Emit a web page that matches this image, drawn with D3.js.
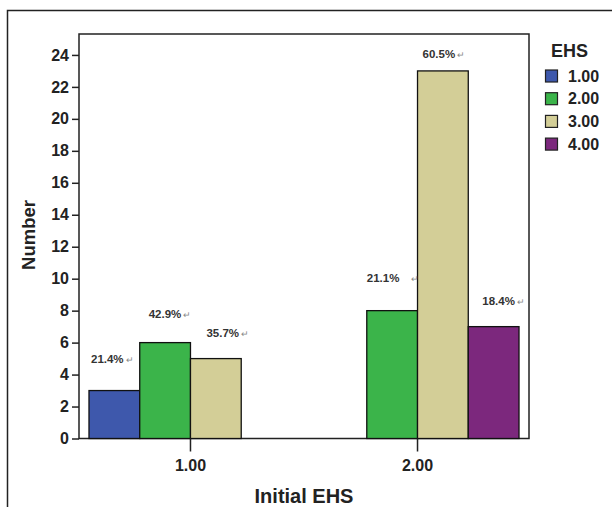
<!DOCTYPE html>
<html>
<head>
<meta charset="utf-8">
<script src="https://cdn.jsdelivr.net/npm/d3@7/dist/d3.min.js"></script>
<style>
  html, body { margin: 0; padding: 0; background: #fff; }
  svg { display: block; }
  text { font-family: "Liberation Sans", Arial, sans-serif; }
</style>
</head>
<body>
<svg id="chart" width="612" height="507"></svg>
<script>
// ---- data ----
const groups = ["1.00", "2.00"];               // Initial EHS
const series = ["1.00", "2.00", "3.00", "4.00"]; // EHS
const values = [
  [3, 6, 5, 0],   // Initial EHS 1.00
  [0, 8, 23, 7]   // Initial EHS 2.00
];
const pctLabels = [
  ["21.4%", "42.9%", "35.7%", null],
  [null, "21.1%", "60.5%", "18.4%"]
];
const yTicks = [0, 2, 4, 6, 8, 10, 12, 14, 16, 18, 20, 22, 24];
const colors = ["#3E58AC", "#3BB44A", "#D3CE97", "#7C287D"];

// ---- layout ----
const svg = d3.select("#chart");
const L = 79, R = 529, T = 34, B = 438.5;
const y = d3.scaleLinear().domain([0, 25.31]).range([B, T]);
const x0 = d3.scaleBand().domain(groups).range([L, R]).paddingInner(0.106).paddingOuter(0.044);
const x1 = d3.scaleBand().domain(series).range([0, x0.bandwidth()]);

// label nudges (dx from bar left, dy above bar top, mark gap)
const nudge = [
  [[2, 28, 2], [9, 25, 2], [16, 22, 2], null],
  [null, [0, 29, 12], [5, 13, 2], [14, 22, 2]]
];

// outer frame (left + top)
svg.append("path")
  .attr("d", "M7.5,507 L7.5,10.5 L612,10.5")
  .attr("fill", "none").attr("stroke", "#222").attr("stroke-width", 1.5);

// plot frame
svg.append("rect")
  .attr("x", L).attr("y", T).attr("width", R - L).attr("height", B - T)
  .attr("fill", "none").attr("stroke", "#222").attr("stroke-width", 1.5);

// bars
const g = svg.append("g");
groups.forEach((grp, gi) => {
  series.forEach((s, si) => {
    const v = values[gi][si];
    if (!v) return;
    g.append("rect")
      .attr("x", x0(grp) + x1(s))
      .attr("y", y(v))
      .attr("width", x1.bandwidth())
      .attr("height", y(0) - y(v))
      .attr("fill", colors[si])
      .attr("stroke", "#111")
      .attr("stroke-width", 1.3);
  });
});

// percentage labels
groups.forEach((grp, gi) => {
  series.forEach((s, si) => {
    const lab = pctLabels[gi][si];
    if (!lab) return;
    const n = nudge[gi][si];
    const t = svg.append("text")
      .attr("x", x0(grp) + x1(s) + n[0])
      .attr("y", y(values[gi][si]) - n[1])
      .attr("font-size", 11.5).attr("font-weight", "bold").attr("fill", "#333");
    t.append("tspan").text(lab);
    t.append("tspan").attr("dx", n[2]).attr("font-size", 9).attr("font-weight", "normal")
      .attr("fill", "#888").text("\u21B5");
  });
});

// y axis
const yAxis = svg.append("g").attr("transform", `translate(${L},0)`)
  .call(d3.axisLeft(y).tickValues(yTicks).tickSize(7).tickPadding(3));
yAxis.select(".domain").remove();
yAxis.selectAll("line").attr("stroke", "#222").attr("stroke-width", 1.5);
yAxis.selectAll("text").attr("font-size", 16).attr("font-weight", "bold")
  .attr("fill", "#222").style("font-family", '"Liberation Sans", Arial, sans-serif');

// x axis
const xAxis = svg.append("g").attr("transform", `translate(0,${B})`)
  .call(d3.axisBottom(x0).tickSize(13).tickPadding(8));
xAxis.select(".domain").remove();
xAxis.selectAll("line").attr("stroke", "#222").attr("stroke-width", 1.5);
xAxis.selectAll("text").attr("font-size", 16).attr("font-weight", "bold")
  .attr("fill", "#222").style("font-family", '"Liberation Sans", Arial, sans-serif');

// axis titles
svg.append("text")
  .attr("x", (L + R) / 2).attr("y", 503)
  .attr("text-anchor", "middle").attr("font-size", 20).attr("font-weight", "bold").attr("fill", "#222")
  .text("Initial EHS");
svg.append("text")
  .attr("transform", `translate(35,235) rotate(-90)`)
  .attr("text-anchor", "middle").attr("font-size", 18.5).attr("font-weight", "bold").attr("fill", "#222")
  .text("Number");

// legend
const leg = svg.append("g");
leg.append("text").attr("x", 551).attr("y", 57)
  .attr("font-size", 18).attr("font-weight", "bold").attr("fill", "#222").text("EHS");
series.forEach((s, i) => {
  const yy = 70 + i * 22.7;
  leg.append("rect").attr("x", 545.5).attr("y", yy).attr("width", 12).attr("height", 12)
    .attr("fill", colors[i]).attr("stroke", "#222").attr("stroke-width", 1.2);
  leg.append("text").attr("x", 568).attr("y", yy + 11.5)
    .attr("font-size", 16).attr("font-weight", "bold").attr("fill", "#222").text(s);
});
</script>
</body>
</html>
